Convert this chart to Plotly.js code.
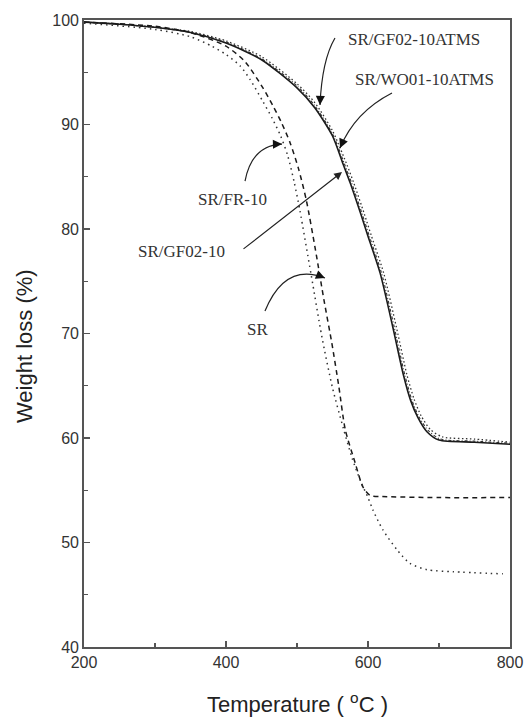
<!DOCTYPE html>
<html>
<head>
<meta charset="utf-8">
<script src="https://cdn.plot.ly/plotly-3.0.1.min.js"></script>
<style>html,body{margin:0;padding:0;background:#fff;}#chart{width:526px;height:718px;}</style>
</head>
<body>
<div id="chart"></div>
<script>
// ---- data ----
const tSolid = [200,250,300,350,400,450,500,525,550,565,575,590,600,617,635,650,660,670,683,700,750,800];
const wSolid = [99.8,99.6,99.3,98.8,97.8,96.2,93.5,91.6,88.9,86.2,84.4,81.4,79.3,75.8,70.6,66.0,63.6,62.0,60.6,59.8,59.6,59.4];

const tGFATMS = [200,250,300,350,400,450,500,525,550,570,580,595,605,622,640,655,665,675,688,705,750,800];
const wGFATMS = [99.8,99.6,99.3,98.9,98.0,96.5,93.9,92.1,89.4,86.2,84.4,81.4,79.3,75.8,70.6,66.0,63.7,62.1,60.8,60.1,59.9,59.6];

const tWOATMS = [200,250,300,350,400,450,500,525,550,567,577,592,602,619,637,652,662,672,685,702,750,800];
const wWOATMS = [99.8,99.6,99.3,98.8,97.9,96.3,93.7,91.8,89.1,86.2,84.4,81.4,79.3,75.8,70.6,66.0,63.6,62.0,60.7,59.9,59.7,59.5];

const tFR = [200,300,350,400,427,452,466,478,490,502,513,526,538,549,559,568,582,593,603,620,700,800];
const wFR = [99.8,99.4,98.8,97.5,96.0,93.5,91.8,90.2,88.3,85.8,82.8,78.0,73.2,69.1,64.9,60.8,57.6,55.3,54.5,54.4,54.3,54.3];

const tSR = [200,300,350,380,400,420,434,452,465,477,487,496,504,520,535,550,565,578,590,600,607,621,641,659,683,720,790];
const wSR = [99.7,99.1,98.4,97.5,96.7,95.6,94.3,92.2,90.6,88.9,87.0,84.5,81.8,75.6,69.7,64.8,61.0,58.0,55.8,54.3,53.1,51.2,49.3,48.0,47.4,47.2,47.0];

const xTicks = [200,400,600,800];
const yTicks = [40,50,60,70,80,90,100];

const labels = ["SR/GF02-10ATMS","SR/WO01-10ATMS","SR/FR-10","SR/GF02-10","SR"];

// ---- traces ----
const ink = '#1a1a1a';
const sm = 0.7;
const traces = [
  {x:tGFATMS, y:wGFATMS, name:labels[0], mode:'lines', line:{color:'#333', width:1.3, dash:'1.5px,2.5px', shape:'spline', smoothing:sm}},
  {x:tWOATMS, y:wWOATMS, name:labels[1], mode:'lines', line:{color:'#333', width:1.1, dash:'3px,2px,1px,2px', shape:'spline', smoothing:sm}},
  {x:tSolid, y:wSolid, name:labels[3], mode:'lines', line:{color:ink, width:1.6, shape:'spline', smoothing:sm}},
  {x:tFR, y:wFR, name:labels[2], mode:'lines', line:{color:ink, width:1.5, dash:'5px,4px', shape:'spline', smoothing:sm}},
  {x:tSR, y:wSR, name:labels[4], mode:'lines', line:{color:'#333', width:1.5, dash:'1.5px,4px', shape:'spline', smoothing:sm}}
];

// ---- annotation geometry (data coordinates) ----
const curveArrows = [
  {s:[553.5,98.28], c:[535.2,96.17], e:[532.4,91.87], ax:0.4, ay:-10},
  {s:[633.8,93.01], c:[581.7,91.20], e:[560.6,87.75], ax:3.9, ay:-9.2},
  {s:[426.8,84.59], c:[436.6,88.04], e:[478.9,88.13], ax:-10, ay:0.3},
  {s:[454.9,72.15], c:[483.1,76.84], e:[539.4,75.31], ax:-9.3, ay:-3.7}
];
const textPos = [[664.8,98.09],[678.9,94.26],[408.5,82.87],[338.0,77.89],[443.7,70.43]];

const serif = {family:'"Liberation Serif", "DejaVu Serif", serif', size:17, color:'#333'};
const annotations = [];
labels.forEach((t,i)=>{
  annotations.push({x:textPos[i][0], y:textPos[i][1], xref:'x', yref:'y', text:t, showarrow:false, font:serif, xanchor:'center', yanchor:'middle'});
});
const shapes = [];
curveArrows.forEach(a=>{
  shapes.push({type:'path', xref:'x', yref:'y',
    path:`M ${a.s[0]},${a.s[1]} Q ${a.c[0]},${a.c[1]} ${a.e[0]},${a.e[1]}`,
    line:{color:'#222', width:1.2}});
  annotations.push({x:a.e[0], y:a.e[1], xref:'x', yref:'y', text:'', showarrow:true,
    ax:a.ax, ay:a.ay, arrowhead:2, arrowsize:1.3, arrowwidth:1.4, arrowcolor:'#111', standoff:0});
});
// straight arrow for SR/GF02-10
annotations.push({x:563.4, y:85.45, xref:'x', yref:'y', text:'', showarrow:true,
  ax:-100, ay:78, arrowhead:2, arrowsize:1.3, arrowwidth:1.2, arrowcolor:'#222', standoff:0});

// axis titles
const sans = '"Liberation Sans", Arial, sans-serif';
annotations.push({xref:'paper', yref:'paper', x:0, y:0.48, xshift:-60, text:'Weight loss (%)', textangle:-90,
  showarrow:false, font:{family:sans, size:22, color:'#222'}, xanchor:'center', yanchor:'middle'});
annotations.push({xref:'paper', yref:'paper', x:0.5, y:0, yshift:-56, text:'Temperature ( <sup>o</sup>C )',
  showarrow:false, font:{family:sans, size:22, color:'#222'}, xanchor:'center', yanchor:'middle'});

const layout = {
  width:526, height:718,
  margin:{l:84, r:16, t:20, b:71},
  paper_bgcolor:'#fff', plot_bgcolor:'#fff',
  showlegend:false,
  font:{family:sans, size:16, color:'#333'},
  xaxis:{range:[200,800], tickvals:xTicks, ticktext:xTicks.map(String), ticks:'inside', ticklen:6, tickwidth:1.5,
    tickcolor:'#555', showline:true, linecolor:'#555', linewidth:1.8, mirror:true, showgrid:false, zeroline:false,
    minor:{tickvals:[300,500,700], ticks:'inside', ticklen:4, tickwidth:1.3, tickcolor:'#555'},
    tickfont:{family:sans, size:16, color:'#333'}},
  yaxis:{range:[40,100], tickvals:yTicks, ticktext:yTicks.map(String), ticks:'inside', ticklen:6, tickwidth:1.5,
    tickcolor:'#555', showline:true, linecolor:'#555', linewidth:1.8, mirror:true, showgrid:false, zeroline:false,
    minor:{tickvals:[45,55,65,75,85,95], ticks:'inside', ticklen:4, tickwidth:1.3, tickcolor:'#555'},
    tickfont:{family:sans, size:16, color:'#333'}},
  annotations:annotations,
  shapes:shapes
};
Plotly.newPlot('chart', traces, layout, {staticPlot:true, displayModeBar:false});
</script>
</body>
</html>
